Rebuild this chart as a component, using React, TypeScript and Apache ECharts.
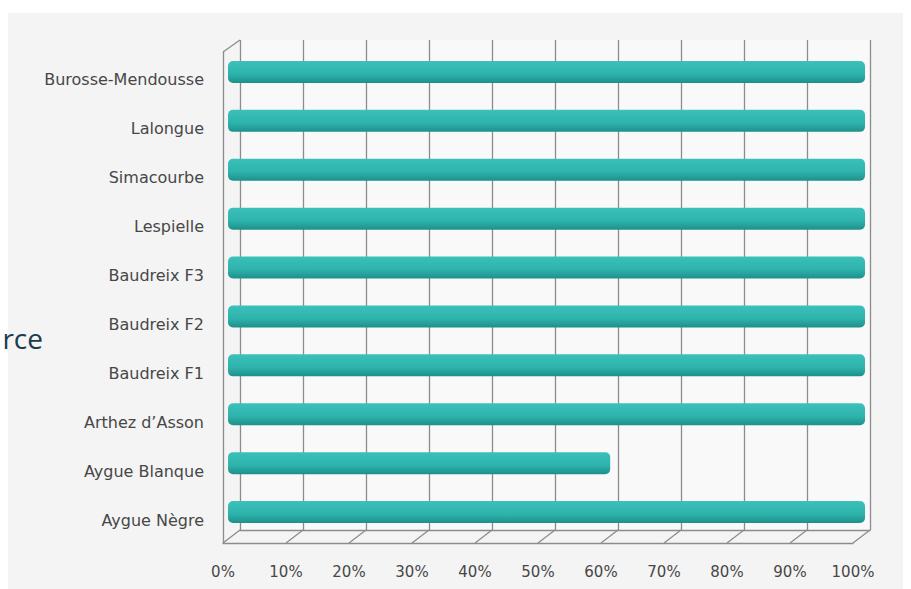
import React, { useEffect, useRef } from "react";
import * as echarts from "echarts";

const categories = [
  "Burosse-Mendousse",
  "Lalongue",
  "Simacourbe",
  "Lespielle",
  "Baudreix F3",
  "Baudreix F2",
  "Baudreix F1",
  "Arthez d’Asson",
  "Aygue Blanque",
  "Aygue Nègre",
];
const values = [100, 100, 100, 100, 100, 100, 100, 100, 60, 100];
const tickValues = [0, 10, 20, 30, 40, 50, 60, 70, 80, 90, 100];
const sideText = "rce";

const FONT = '"DejaVu Sans", sans-serif';
const GRID_COLOR = "#8c8c8c";
const TEXT_COLOR = "#474747";

export default function App() {
  const ref = useRef<HTMLDivElement>(null);

  useEffect(() => {
    if (!ref.current) return;
    const chart = echarts.init(ref.current, null, { renderer: "svg" });

    const option: any = {
      animation: false,
      backgroundColor: "#ffffff",
      graphic: [
        {
          type: "rect",
          z: -10,
          shape: { x: 8, y: 13, width: 895, height: 576 },
          style: { fill: "#f4f4f4" },
          silent: true,
        },
        {
          type: "text",
          z: 100,
          style: {
            text: sideText,
            x: 43,
            y: 338,
            textAlign: "right",
            textVerticalAlign: "middle",
            font: '28px "Open Sans", sans-serif',
            fill: "#1d3b4c",
          },
        },
      ],
      grid: [
        { left: 228, right: 46, top: 47.5, bottom: 52.5 },
        { left: 240, right: 41, top: 40, bottom: 59, backgroundColor: "#f9f9f9", show: true, borderWidth: 0 },
        { left: 223, right: 58, top: 52, bottom: 46 },
      ],
      xAxis: [
        { gridIndex: 0, type: "value", min: 0, max: 100, show: false },
        {
          gridIndex: 1,
          type: "value",
          min: 0,
          max: 100,
          interval: 10,
          axisLabel: { show: false },
          axisTick: { show: false },
          axisLine: { show: true, lineStyle: { color: GRID_COLOR, width: 1.3 } },
          splitLine: { show: true, lineStyle: { color: GRID_COLOR, width: 1.3 } },
        },
        {
          gridIndex: 2,
          type: "value",
          min: 0,
          max: 100,
          interval: 10,
          axisTick: { show: false },
          splitLine: { show: false },
          axisLine: { show: true, lineStyle: { color: GRID_COLOR, width: 1.3 } },
          axisLabel: {
            formatter: "{value}%",
            fontFamily: FONT,
            fontSize: 15,
            color: TEXT_COLOR,
            margin: 21,
          },
        },
      ],
      yAxis: [
        {
          gridIndex: 0,
          type: "category",
          inverse: true,
          data: categories,
          axisLine: { show: false },
          axisTick: { show: false },
          splitLine: { show: false },
          axisLabel: {
            margin: 24,
            formatter: (v: string) => `{a|${v}}`,
            rich: {
              a: {
                fontFamily: FONT,
                fontSize: 16,
                color: TEXT_COLOR,
                padding: [16, 0, 0, 0],
              },
            },
          },
        },
        {
          gridIndex: 1,
          type: "value",
          min: 0,
          max: 1,
          show: false,
          splitLine: { show: false },
        },
        {
          gridIndex: 2,
          type: "value",
          min: 0,
          max: 1,
          axisLabel: { show: false },
          axisTick: { show: false },
          splitLine: { show: false },
          axisLine: { show: true, lineStyle: { color: GRID_COLOR, width: 1.3 } },
        },
      ],
      series: [
        {
          type: "custom",
          xAxisIndex: 1,
          yAxisIndex: 1,
          silent: true,
          z: 1,
          data: tickValues.map((v) => [v, 0]),
          renderItem: (params: any, api: any) => {
            const p = api.coord([api.value(0), 0]);
            return {
              type: "line",
              shape: { x1: p[0], y1: p[1], x2: p[0] - 17, y2: p[1] + 13 },
              style: { stroke: GRID_COLOR, lineWidth: 1.3 },
            };
          },
        },
        {
          type: "custom",
          xAxisIndex: 1,
          yAxisIndex: 1,
          silent: true,
          z: 1,
          data: [[0, 1]],
          renderItem: (params: any, api: any) => {
            const p = api.coord([api.value(0), api.value(1)]);
            return {
              type: "line",
              shape: { x1: p[0], y1: p[1], x2: p[0] - 17, y2: p[1] + 12 },
              style: { stroke: GRID_COLOR, lineWidth: 1.3 },
            };
          },
        },
        {
          type: "bar",
          xAxisIndex: 0,
          yAxisIndex: 0,
          z: 10,
          barWidth: 22,
          data: values,
          itemStyle: {
            borderRadius: 5,
            color: new echarts.graphic.LinearGradient(0, 0, 0, 1, [
              { offset: 0, color: "#3cc1ba" },
              { offset: 0.6, color: "#2db3ac" },
              { offset: 1, color: "#1e8f8a" },
            ]),
          },
        },
      ],
    };

    chart.setOption(option);
    return () => chart.dispose();
  }, []);

  return (
    <div
      ref={ref}
      style={{ position: "fixed", left: 0, top: 0, width: 911, height: 589 }}
    />
  );
}
